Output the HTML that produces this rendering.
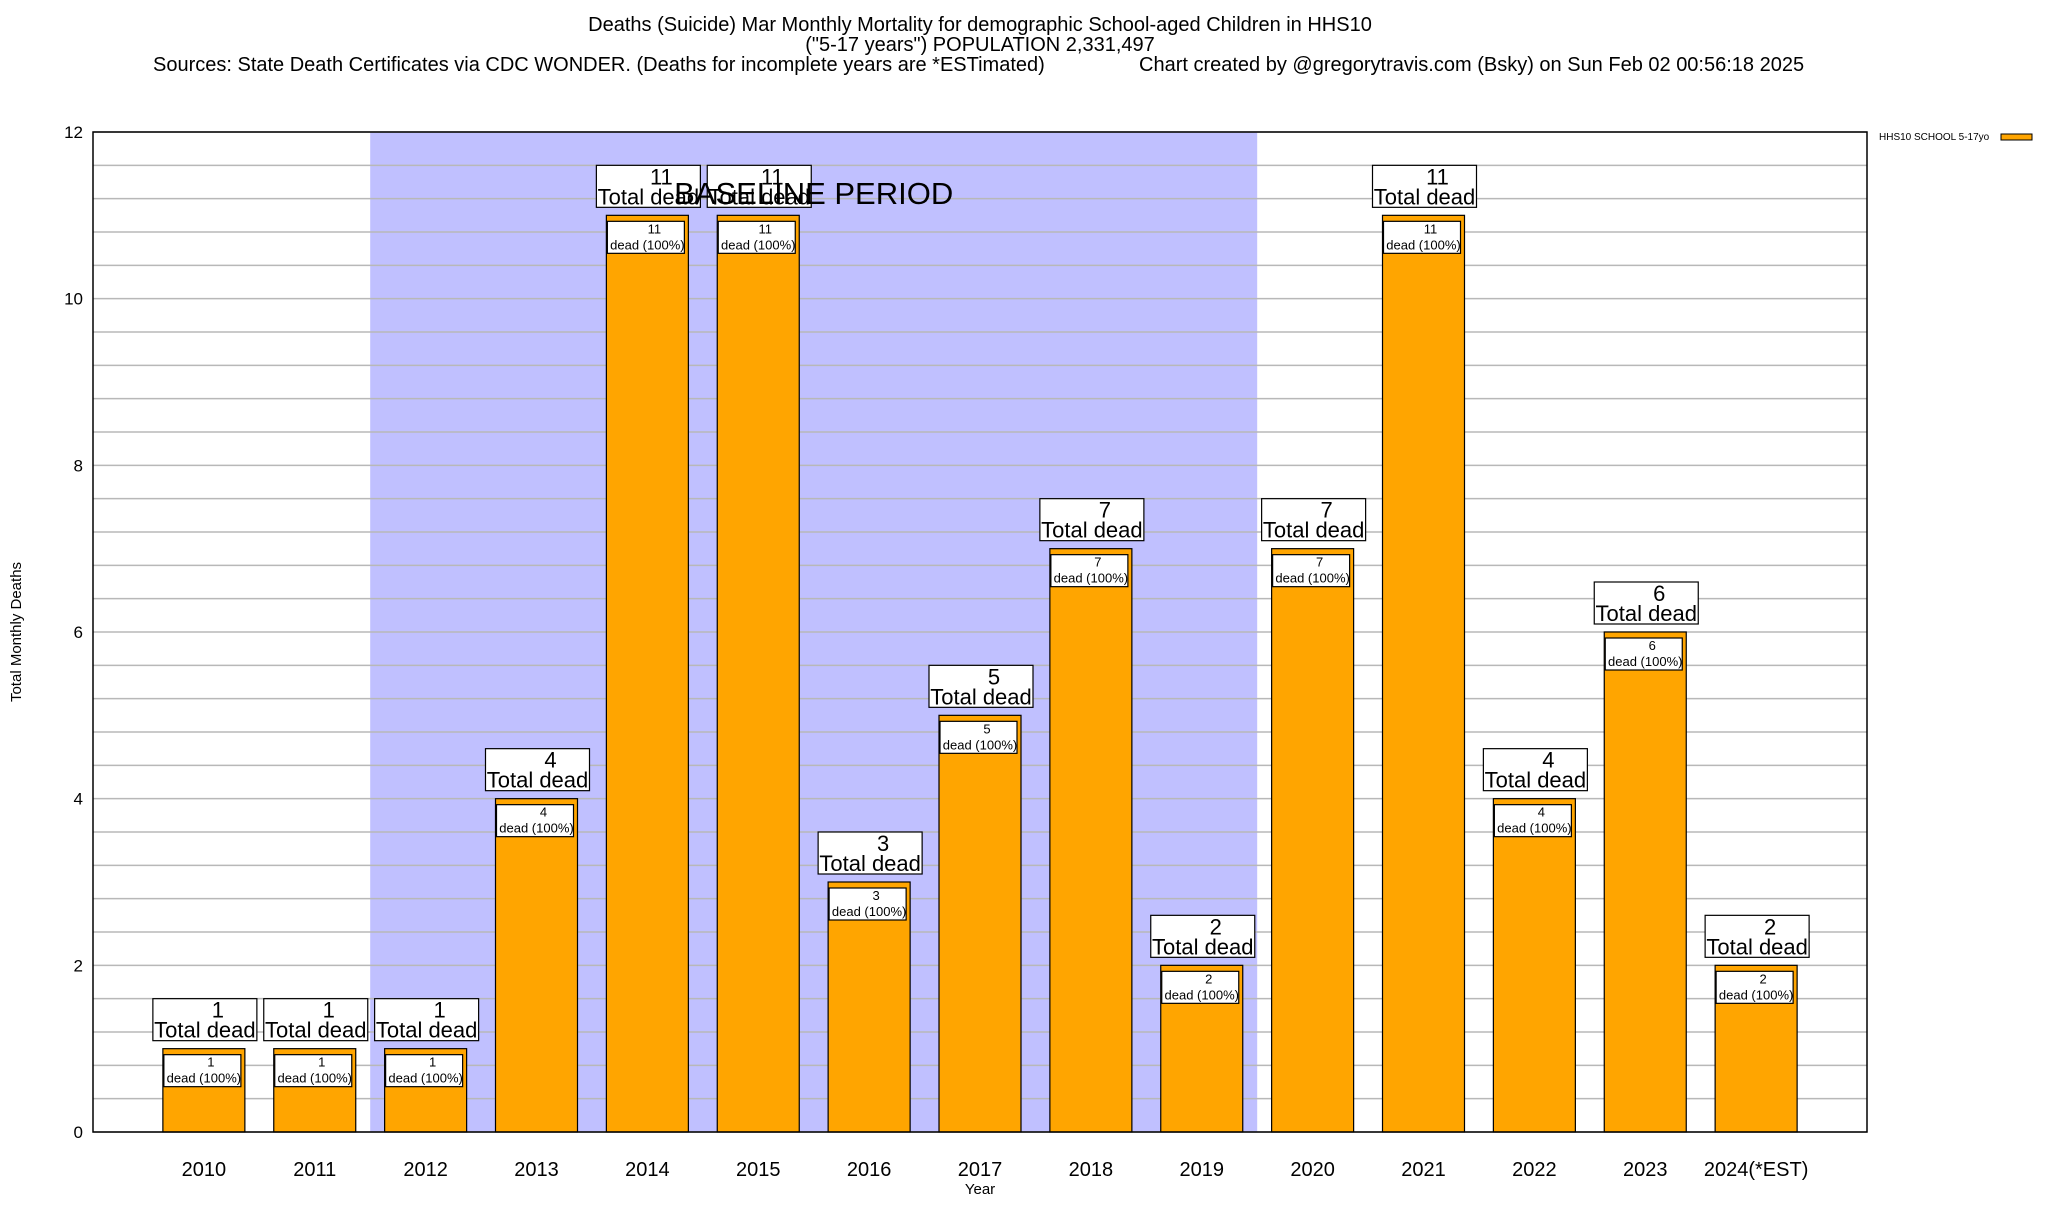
<!DOCTYPE html>
<html><head><meta charset="utf-8"><style>
body{margin:0;background:#fff;width:2048px;height:1200px;overflow:hidden}
svg{font-family:"Liberation Sans",sans-serif}
</style></head><body>
<svg id="chart" width="2048" height="1200" xmlns="http://www.w3.org/2000/svg">
<text x="980" y="31" font-size="20" text-anchor="middle">Deaths (Suicide) Mar Monthly Mortality for demographic School-aged Children in HHS10</text>
<text x="980" y="51" font-size="20" text-anchor="middle">("5-17 years") POPULATION 2,331,497</text>
<text x="153" y="71" font-size="20">Sources: State Death Certificates via CDC WONDER. (Deaths for incomplete years are *ESTimated)</text>
<text x="1139" y="71" font-size="20">Chart created by @gregorytravis.com (Bsky) on Sun Feb 02 00:56:18 2025</text>
<text x="1879" y="140" font-size="10">HHS10 SCHOOL 5-17yo</text>
<rect x="2001" y="134" width="31" height="6" fill="#ffa500" stroke="#000" stroke-width="1"/>
<g id="plot"></g>
<text transform="translate(21,632) rotate(-90)" font-size="15" text-anchor="middle">Total Monthly Deaths</text>
<text x="980" y="1194" font-size="15" text-anchor="middle">Year</text>
</svg>
<script>
const categories=["2010","2011","2012","2013","2014","2015","2016","2017","2018","2019","2020","2021","2022","2023","2024(*EST)"];
const deaths=[1,1,1,4,11,11,3,5,7,2,7,11,4,6,2];
const yTicks=[0,2,4,6,8,10,12];
const baselineStart=2, baselineEnd=9;
const L=93,R=1867,T=132,B=1132,ymax=12;
const xs=i=>L+(i+1)*(R-L)/16;
const ys=v=>B-v*(B-T)/ymax;
const NS="http://www.w3.org/2000/svg";
const g=document.getElementById('plot');
function mk(tag,attrs,parent){const e=document.createElementNS(NS,tag);for(const k in attrs)e.setAttribute(k,attrs[k]);(parent||g).appendChild(e);return e;}
const sx1=xs(baselineStart-0.5),sx2=xs(baselineEnd+0.5);
let sh=mk('rect',{x:sx1,y:T,width:sx2-sx1,height:B-T,fill:'#c0c0ff'});


for(let v=0;v<=ymax+0.001;v+=0.4){const y=ys(v);
 let ln=mk('line',{x1:L,x2:R,y1:y,y2:y,stroke:'#b8b8b8','stroke-width':1.5});
 
 }
yTicks.forEach(v=>{const t=mk('text',{x:L-10,y:ys(v)+6,'font-size':17,'text-anchor':'end'});t.textContent=v;
 
 });
const bw=82;
deaths.forEach((d,i)=>{const cx=xs(i);
 const bar=mk('rect',{x:cx-bw/2,y:ys(d),width:bw,height:B-ys(d),fill:'#ffa500',stroke:'#000','stroke-width':1.2});
 
 
 const ib=mk('rect',{x:cx-bw/2+1,y:ys(d)+6,width:bw-5,height:32,fill:'#fff',stroke:'#000','stroke-width':1.2});
 
 
 const t1=mk('text',{x:cx+7,y:ys(d)+18,'font-size':13,'text-anchor':'middle'});t1.textContent=d;
 
 
 const t2=mk('text',{x:cx,y:ys(d)+34,'font-size':13,'text-anchor':'middle'});t2.textContent='dead (100%)';
 
 
 const by=ys(d)-50;
 const ob=mk('rect',{x:cx-51,y:by,width:104,height:42,fill:'#fff',stroke:'#000','stroke-width':1.2});
 
 
 const o1=mk('text',{x:cx+14,y:by+19,'font-size':22,'text-anchor':'middle'});o1.textContent=d;
 
 
 const o2=mk('text',{x:cx+1,y:by+39,'font-size':22,'text-anchor':'middle'});o2.textContent='Total dead';
 
 
 const xl=mk('text',{x:cx,y:1176,'font-size':20,'text-anchor':'middle'});xl.textContent=categories[i];
 
 
});
let bt=mk('text',{x:(sx1+sx2)/2,y:ys(11.05)-7,'font-size':31,'text-anchor':'middle'});
bt.textContent='BASELINE PERIOD';


const fr=mk('rect',{x:L,y:T,width:R-L,height:B-T,fill:'none',stroke:'#000','stroke-width':1.5});


</script>
</body></html>
